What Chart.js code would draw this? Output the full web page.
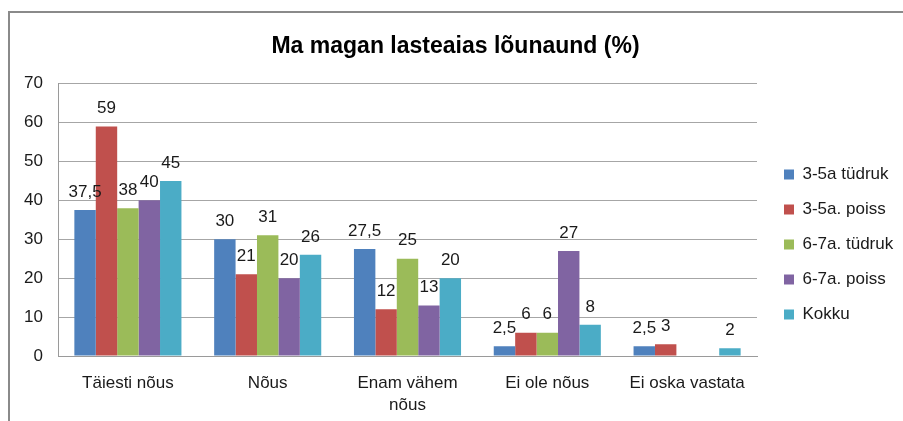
<!DOCTYPE html>
<html>
<head>
<meta charset="utf-8">
<script src="https://cdn.jsdelivr.net/npm/chart.js@4/dist/chart.umd.min.js"></script>
<style>
html,body{margin:0;padding:0;background:#fff;}
#wrap{width:903px;height:421px;position:relative;}
</style>
</head>
<body>
<div id="wrap"><canvas id="c" width="903" height="421"></canvas></div>
<script>
const TITLE = 'Ma magan lasteaias lõunaund (%)';
const categories = ['Täiesti nõus', 'Nõus', ['Enam vähem', 'nõus'], 'Ei ole nõus', 'Ei oska vastata'];
const seriesNames = ['3-5a tüdruk', '3-5a. poiss', '6-7a. tüdruk', '6-7a. poiss', 'Kokku'];
const tudruk35 = [37.5, 30, 27.5, 2.5, 2.5];
const poiss35 = [59, 21, 12, 6, 3];
const tudruk67 = [38, 31, 25, 6, null];
const poiss67 = [40, 20, 13, 27, null];
const kokku = [45, 26, 20, 8, 2];
const yTicks = [0, 10, 20, 30, 40, 50, 60, 70];
const colors = ['#4F81BD', '#C0504D', '#9BBB59', '#8064A2', '#4BACC6'];

const FONT = "'Liberation Sans', Arial, sans-serif";
const allSeries = [tudruk35, poiss35, tudruk67, poiss67, kokku];

const borderPlugin = {
  id: 'outerBorder',
  beforeDraw(chart) {
    const ctx = chart.ctx;
    ctx.save();
    ctx.strokeStyle = '#8a8a8a';
    ctx.lineWidth = 2;
    ctx.beginPath();
    ctx.moveTo(9, 421);
    ctx.lineTo(9, 12);
    ctx.lineTo(903, 12);
    ctx.stroke();
    ctx.restore();
  }
};

const legendFix = {
  id: 'legendFix',
  beforeLayout(chart) {
    const lg = chart.legend;
    if (lg && !lg.__fixed) {
      const orig = lg.fit;
      lg.fit = function () { orig.call(this); this.width = 137; };
      lg.__fixed = true;
    }
  },
  afterLayout(chart) {
    const lg = chart.legend;
    if (lg) { lg.top += 28; lg.bottom += 28; }
  }
};

const valueLabels = {
  id: 'valueLabels',
  afterDatasetsDraw(chart) {
    const ctx = chart.ctx;
    ctx.save();
    ctx.font = '17px ' + FONT;
    ctx.fillStyle = '#1a1a1a';
    ctx.textAlign = 'center';
    ctx.textBaseline = 'middle';
    chart.data.datasets.forEach((ds, i) => {
      const meta = chart.getDatasetMeta(i);
      meta.data.forEach((bar, j) => {
        const v = ds.data[j];
        if (v === null || v === undefined) return;
        ctx.fillText(String(v).replace('.', ','), bar.x, bar.y - 18);
      });
    });
    ctx.restore();
  }
};

new Chart(document.getElementById('c'), {
  type: 'bar',
  data: {
    labels: categories,
    datasets: seriesNames.map((n, i) => ({
      label: n,
      data: allSeries[i],
      backgroundColor: colors[i],
      borderWidth: 0,
      categoryPercentage: 0.766,
      barPercentage: 1
    }))
  },
  options: {
    responsive: false,
    animation: false,
    layout: { padding: { top: 12, left: 8, right: 0, bottom: 0 } },
    plugins: {
      title: {
        display: true,
        text: TITLE,
        font: { family: FONT, size: 23, weight: 'bold' },
        color: '#000',
        padding: { top: 21, bottom: 23 }
      },
      legend: {
        position: 'right',
        align: 'center',
        labels: {
          font: { family: FONT, size: 17 },
          color: '#1a1a1a',
          boxWidth: 10,
          boxHeight: 10,
          padding: 18
        }
      },
      tooltip: { enabled: false }
    },
    scales: {
      x: {
        grid: { display: false, drawTicks: false },
        border: { display: true, color: '#9a9a9a', width: 1 },
        ticks: {
          font: { family: FONT, size: 17, lineHeight: 1.3 },
          color: '#1a1a1a',
          padding: 16,
          maxRotation: 0,
          autoSkip: false
        },
        afterFit(s) { s.height = 65; }
      },
      y: {
        min: 0,
        max: 70,
        afterBuildTicks(s) { s.ticks = yTicks.map(v => ({ value: v })); },
        grid: { color: '#a6a6a6', drawTicks: false, lineWidth: 1 },
        border: { display: true, color: '#9a9a9a', width: 1 },
        ticks: {
          font: { family: FONT, size: 17 },
          color: '#1a1a1a',
          padding: 15
        },
        afterFit(s) { s.width = 50; }
      },
      gap: {
        position: 'right',
        display: true,
        grid: { display: false, drawTicks: false },
        border: { display: false },
        ticks: { display: false },
        afterFit(s) { s.width = 9; }
      }
    }
  },
  plugins: [borderPlugin, legendFix, valueLabels]
});
</script>
</body>
</html>
